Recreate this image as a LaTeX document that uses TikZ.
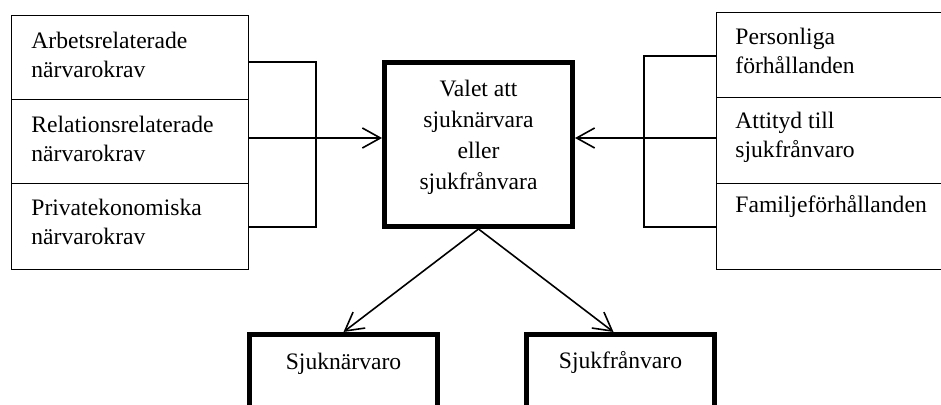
\documentclass[tikz,border=0pt]{standalone}
\usepackage{fontspec}
\setmainfont{Liberation Serif}
\usetikzlibrary{arrows.meta}

\begin{document}
\begin{tikzpicture}[x=0.5pt, y=-0.5pt,
		ruta/.style={draw, rectangle, line width=0.6pt, inner sep=0pt, anchor=north west},
		tjock/.style={draw, rectangle, line width=2.5pt, inner sep=0pt, anchor=north west},
		txt/.style={inner sep=0pt, anchor=base west, align=left, font=\fontsize{11.8}{14.5}\selectfont},
		ctxt/.style={inner sep=0pt, anchor=base, align=center, font=\fontsize{11.8}{15.5}\selectfont},
		linje/.style={line width=0.9pt},
		pil/.style={->, >={Straight Barb[length=9pt, width=10pt]}, line width=0.8pt}]
				\clip (0,0) rectangle (941,405);
				\node[ruta, minimum width=118.5pt, minimum height=42pt] (arb) at (11,15) {};
				\node[ruta, minimum width=118.5pt, minimum height=42pt] (rel) at (11,99) {};
				\node[ruta, minimum width=118.5pt, minimum height=43pt] (pri) at (11,183) {};
				\node[ruta, minimum width=122pt, minimum height=42.5pt] (per) at (716,12) {};
				\node[ruta, minimum width=122pt, minimum height=43pt] (att) at (716,97) {};
				\node[ruta, minimum width=122pt, minimum height=43pt] (fam) at (716,183) {};
				\node[tjock, minimum width=94pt, minimum height=82pt] (val) at (382,60) {};
				\node[tjock, minimum width=94pt, minimum height=60pt] (sjn) at (247,332) {};
				\node[tjock, minimum width=94pt, minimum height=60pt] (sfr) at (524,332) {};
				\node[txt] (arbt) at (31,78) {Arbetsrelaterade\\närvarokrav};
				\node[txt] (relt) at (31,162) {Relationsrelaterade\\närvarokrav};
				\node[txt] (prit) at (31,245) {Privatekonomiska\\närvarokrav};
				\node[txt] (pert) at (735,74) {Personliga\\förhållanden};
				\node[txt] (attt) at (735,158) {Attityd till\\sjukfrånvaro};
				\node[txt] (famt) at (735,213) {Familjeförhållanden};
				\node[ctxt] (valt) at (478.5,190) {Valet att\\sjuknärvara\\eller\\sjukfrånvara};
				\node[ctxt] (sjnt) at (343.5,369) {Sjuknärvaro};
				\node[ctxt] (sfrt) at (620.5,368) {Sjukfrånvaro};
				\coordinate (vk) at (316,62);
				\coordinate (vm) at (316,138);
				\coordinate (vb) at (316,227);
				\coordinate (hk) at (644,56);
				\coordinate (hm) at (644,138);
				\coordinate (hb) at (644,227);
				\draw[linje] (arb.east |- vk) -- (vk) -- (vb) -- (pri.east |- vb);
				\draw[linje] (rel.east |- vm) -- (vm);
				\draw[pil] (vm) -- (val.west |- vm);
				\draw[linje] (per.west |- hk) -- (hk) -- (hb) -- (fam.west |- hb);
				\draw[linje] (att.west |- hm) -- (hm);
				\draw[pil] (hm) -- (val.east |- hm);
				\draw[pil] (val.south) -- (sjn.north);
				\draw[pil] (val.south) -- ([xshift=-3.5pt]sfr.north);
			\end{tikzpicture}
\end{document}
